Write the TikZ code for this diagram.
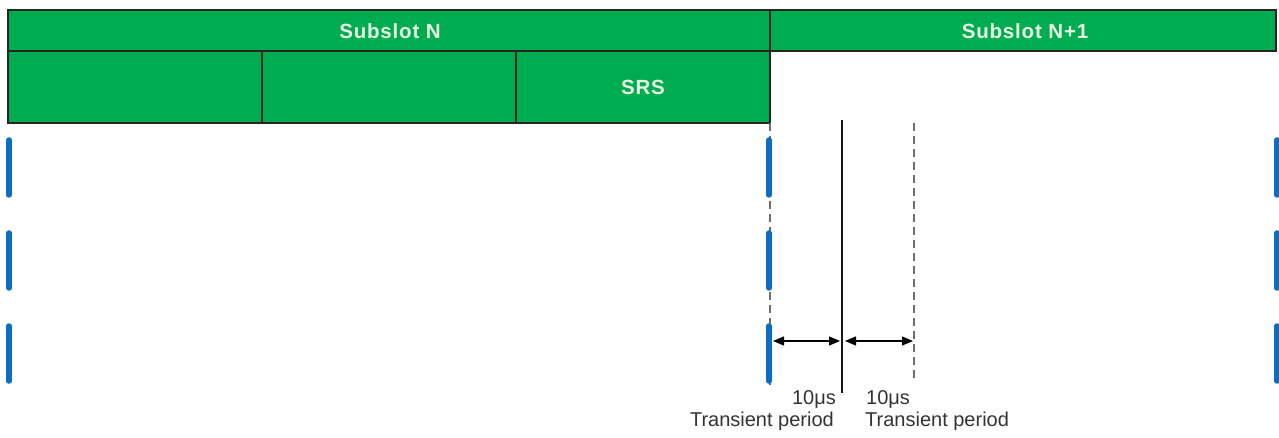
\documentclass[tikz,border=0pt]{standalone}
\usepackage{fontspec}
\setmainfont{Liberation Sans}
\newfontfamily\slotfont[LetterSpace=4]{Liberation Sans}
\usetikzlibrary{arrows.meta}
\definecolor{slotgreen}{RGB}{0,172,80}
\definecolor{labelwhite}{RGB}{232,246,226}
\definecolor{markblue}{RGB}{10,110,195}
\definecolor{dashgray}{RGB}{110,110,110}
\tikzset{
  greenbox/.style={draw=black!85, line width=1.8pt, fill=slotgreen, inner sep=0pt},
  slotlabel/.style={text=labelwhite, font=\slotfont\bfseries\fontsize{20.5}{20.5}\selectfont},
  bluemark/.style={line width=5.5pt, draw=markblue, line cap=round},
  graydash/.style={draw=dashgray, line width=1.3pt, dash pattern=on 8pt off 5pt},
  blackline/.style={draw=black!90, line width=1.5pt},
  dimarrow/.style={line width=1.1pt, {Triangle[length=11pt,width=9pt]}-{Triangle[length=11pt,width=9pt]}},
  smalltext/.style={font=\fontsize{20}{20}\selectfont, inner sep=0pt, text=black!80}
}
\begin{document}
\begin{tikzpicture}[x=1pt,y=-1pt]
\useasboundingbox (0,0) rectangle (1279,438);
% top bars
\draw[greenbox] (8,10) rectangle (770,51);
\draw[greenbox] (770,10) rectangle (1276,51);
\node[slotlabel] (sN) at (390,31) {Subslot N};
\node[slotlabel] (sN1) at (1025,31) {Subslot N+1};
% second row
\draw[greenbox] (8,51) rectangle (262,123);
\draw[greenbox] (262,51) rectangle (516,123);
\draw[greenbox] (516,51) rectangle (770,123);
\node[slotlabel] (srs) at (643,87) {SRS};
% vertical guide lines
\coordinate (g0t) at (770,123); \coordinate (g0b) at (770,385);
\coordinate (g1t) at (842,123); \coordinate (g1b) at (842,393);
\coordinate (g2t) at (914,123); \coordinate (g2b) at (914,381);
\draw[graydash] (g0t) -- (g0b);
\fill[dashgray] (g1t) circle (0.8pt);
\draw[blackline] ([yshift=3pt]g1t) -- (g1b);
\draw[graydash] (g2t) -- (g2b);
% blue markers
\foreach \x in {9,769,1277}{
  \draw[bluemark] (\x,140) -- (\x,195);
  \draw[bluemark] (\x,233) -- (\x,288);
  \draw[bluemark] (\x,326) -- (\x,381);
}
% dimension arrows
\coordinate (a1l) at (773,341); \coordinate (a1r) at (840,341);
\coordinate (a2l) at (845,341); \coordinate (a2r) at (913,341);
\draw[dimarrow] (a1l) -- (a1r);
\draw[dimarrow] (a2l) -- (a2r);
% labels
\node[smalltext, anchor=east] (t1a) at (836,399) {10μs};
\node[smalltext, anchor=east] (t1b) at (834,421) {Transient period};
\node[smalltext, anchor=west] (t2a) at (866,399) {10μs};
\node[smalltext, anchor=west] (t2b) at (865,421) {Transient period};
\end{tikzpicture}
\end{document}
